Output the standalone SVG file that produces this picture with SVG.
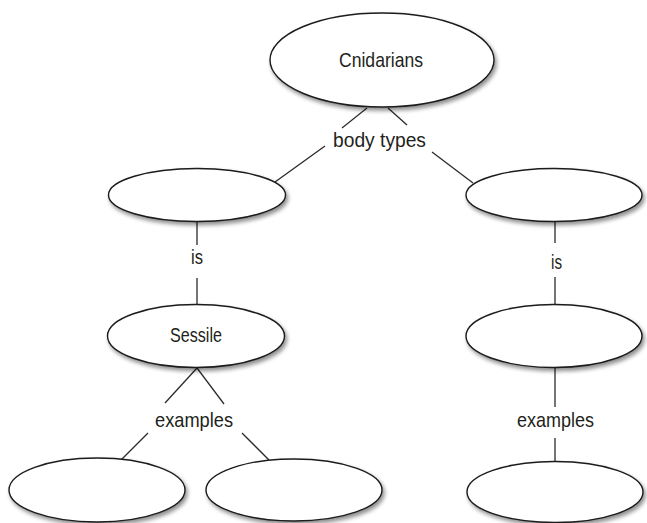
<svg xmlns="http://www.w3.org/2000/svg" width="647" height="523" viewBox="0 0 647 523">
  <defs>
    <filter id="shadow" x="-20%" y="-30%" width="150%" height="170%">
      <feGaussianBlur in="SourceAlpha" stdDeviation="2.2"/>
      <feOffset dx="2" dy="3" result="b"/>
      <feComponentTransfer><feFuncA type="linear" slope="0.45"/></feComponentTransfer>
      <feMerge><feMergeNode/><feMergeNode in="SourceGraphic"/></feMerge>
    </filter>
  </defs>
  <style>
    .node ellipse { fill: #ffffff; stroke: #1a1a1a; stroke-width: 1.4; filter: url(#shadow); }
    .connectors line { stroke: #2a2a2a; stroke-width: 1.3; }
    text { font-family: "Liberation Sans", Arial, sans-serif; font-size: 21px; fill: #231f20; text-anchor: middle; }
  </style>
  <rect width="647" height="523" fill="#ffffff"/>

  <g class="connectors" id="connectors">
    <line x1="367" y1="108" x2="342" y2="128"/>
    <line x1="388" y1="108" x2="407" y2="125"/>
    <line x1="325" y1="146" x2="275" y2="182"/>
    <line x1="432" y1="152" x2="473" y2="183"/>
    <line x1="197" y1="221" x2="197" y2="245"/>
    <line x1="197" y1="278" x2="197" y2="304"/>
    <line x1="555" y1="221" x2="555" y2="243"/>
    <line x1="555" y1="277" x2="555" y2="304"/>
    <line x1="197" y1="368" x2="165" y2="403"/>
    <line x1="197" y1="368" x2="224" y2="404"/>
    <line x1="148" y1="433" x2="121" y2="460"/>
    <line x1="242" y1="433" x2="269" y2="460"/>
    <line x1="555" y1="367" x2="555" y2="407"/>
    <line x1="555" y1="438" x2="555" y2="462"/>
  </g>

  <g id="labels">
    <text x="379.5" y="147" textLength="93" lengthAdjust="spacingAndGlyphs">body types</text>
    <text x="197" y="264" textLength="12" lengthAdjust="spacingAndGlyphs">is</text>
    <text x="556.5" y="269" textLength="11" lengthAdjust="spacingAndGlyphs">is</text>
    <text x="194" y="427" textLength="78" lengthAdjust="spacingAndGlyphs">examples</text>
    <text x="555.5" y="427" textLength="77" lengthAdjust="spacingAndGlyphs">examples</text>
  </g>

  <g class="node" id="node-cnidarians">
    <ellipse cx="382" cy="60" rx="112" ry="47"/>
    <text x="381" y="67" textLength="84" lengthAdjust="spacingAndGlyphs">Cnidarians</text>
  </g>
  <g class="node" id="node-left-type">
    <ellipse cx="197" cy="195" rx="88.5" ry="26.5"/>
  </g>
  <g class="node" id="node-right-type">
    <ellipse cx="554" cy="195" rx="88" ry="26.5"/>
  </g>
  <g class="node" id="node-sessile">
    <ellipse cx="196" cy="336" rx="88.5" ry="31.5"/>
    <text x="196" y="342" textLength="52" lengthAdjust="spacingAndGlyphs">Sessile</text>
  </g>
  <g class="node" id="node-right-mid">
    <ellipse cx="554" cy="336" rx="88" ry="31.5"/>
  </g>
  <g class="node" id="node-example-1">
    <ellipse cx="97" cy="490" rx="88" ry="32"/>
  </g>
  <g class="node" id="node-example-2">
    <ellipse cx="294" cy="490" rx="88" ry="31"/>
  </g>
  <g class="node" id="node-example-3">
    <ellipse cx="555" cy="492" rx="88" ry="30.5"/>
  </g>
</svg>
